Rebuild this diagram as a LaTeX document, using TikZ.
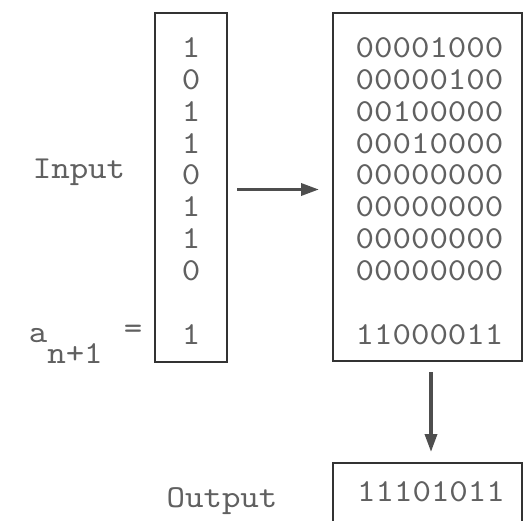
\documentclass[tikz,border=0pt]{standalone}
\usepackage{fontspec}
\usetikzlibrary{arrows.meta}
% typewriter face, widened a little
\newfontfamily\typer[Extension=.otf,FakeStretch=1.1]{lmmono10-regular}
\definecolor{ink}{HTML}{606060}
\definecolor{rule}{HTML}{333333}
\definecolor{arrowgray}{HTML}{4E4E4E}
\begin{document}
\begin{tikzpicture}[x=1pt,y=-1pt,
  regbox/.style={draw=rule,line width=2.6pt,inner sep=0pt,outer sep=0pt},
  txt/.style={text=ink,font=\fontsize{32}{32}\selectfont\typer,inner sep=0pt,outer sep=0pt},
  flow/.style={draw=arrowgray,line width=3.4pt,-{Triangle[length=18pt,width=12pt]}}]
  \path[use as bounding box,fill=white] (0,0) rectangle (524,520);
  \clip (0,0) rectangle (524,520);

  % registers
  \node[regbox,minimum width=72pt,minimum height=349pt] (inbox) at (191,187.5) {};
  \node[regbox,minimum width=189pt,minimum height=348pt] (table) at (427.5,187) {};
  \node[regbox,minimum width=189pt,minimum height=70pt] (outbox) at (427.5,498) {};

  % input column
  \foreach \d [count=\i from 0] in {1,0,1,1,0,1,1,0}
    \node[txt] (bit\i) at (191,{48+31.8*\i}) {\d};
  \node[txt] (next) at (191,335) {1};

  % shifted rows
  \foreach \bits [count=\i from 0] in {00001000,00000100,00100000,00010000,00000000,00000000,00000000,00000000}
    \node[txt] (row\i) at (429.5,{48+31.8*\i}) {\bits};
  \node[txt] (feedback) at (429.5,335) {11000011};
  \node[txt] (result) at (431,492) {11101011};

  % labels
  \node[txt,anchor=base] (inlabel) at (79,178) {Input};
  \node[txt,anchor=base] (outlabel) at (222,507) {Output};
  \node[txt,anchor=base] (asym) at (38,342) {a};
  \node[txt,anchor=base] (asub) at (75,363) {n+1};
  \node[txt] (eq) at (133,332) {=};

  % data flow
  \draw[flow] ([xshift=10pt,yshift=-2pt]inbox.east) -- ([xshift=-14pt,yshift=-2.5pt]table.west);
  \draw[flow] ([xshift=3.5pt,yshift=-11pt]table.south) -- ([xshift=3.5pt,yshift=11pt]outbox.north);
\end{tikzpicture}
\end{document}
